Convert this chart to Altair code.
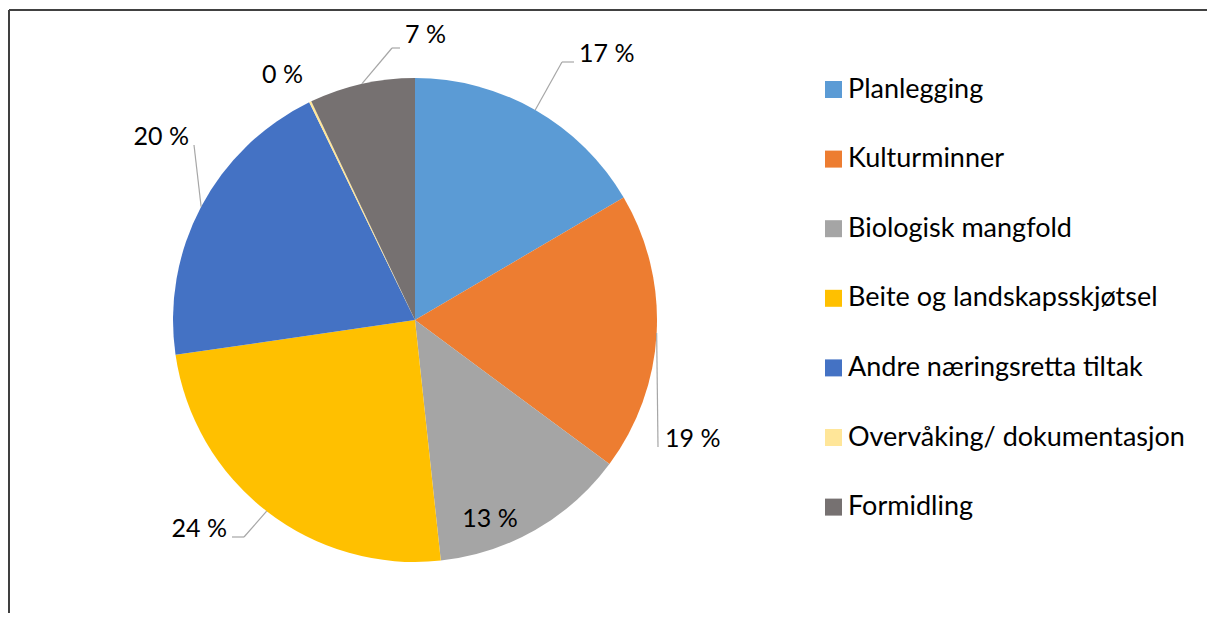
import math
import altair as alt
import pandas as pd

# ---- data ----
categories = [
    "Planlegging",
    "Kulturminner",
    "Biologisk mangfold",
    "Beite og landskapsskjøtsel",
    "Andre næringsretta tiltak",
    "Overvåking/ dokumentasjon",
    "Formidling",
]
shares = [16.55, 18.6, 13.15, 24.4, 20.1, 0.15, 7.05]
colors = ["#5B9BD5", "#ED7D31", "#A5A5A5", "#FFC000", "#4472C4", "#FFE699", "#767171"]

# ---- layout / style ----
W, H = 1199, 605
CX, CY, R = 407, 312, 242
FONT = "Lato"
LABEL_SIZE = 25
LEGEND_SIZE = 27

# label placement (Excel-style manual label positions), style only
label_layout = [
    {"text_xy": (571, 54), "align": "left", "path": [(554, 54), (566, 54)]},
    {"text_xy": (657, 439), "align": "left", "path": [(650, 439)]},
    {"text_xy": (482, 519), "align": "center", "path": None},
    {"text_xy": (219, 529), "align": "right", "path": [(236, 529), (224, 529)]},
    {"text_xy": (181, 137), "align": "right", "path": [(186, 137)]},
    {"text_xy": (254, 75), "align": "left", "path": None},
    {"text_xy": (397, 35), "align": "left", "path": [(384, 40), (392, 40)]},
]

pie_df = pd.DataFrame({
    "kategori": categories,
    "andel": shares,
    "rekkefolge": list(range(len(categories))),
})

total = sum(shares)
cum = 0.0
seg_rows, lab_rows = [], []
for v, lay in zip(shares, label_layout):
    a = (cum + v / 2) / total * 2 * math.pi
    cum += v
    ex, ey = CX + R * math.sin(a), CY - R * math.cos(a)
    if lay["path"]:
        pts = [(ex, ey)] + lay["path"]
        for (x1, y1), (x2, y2) in zip(pts[:-1], pts[1:]):
            seg_rows.append({"x": x1, "y": y1, "x2": x2, "y2": y2})
    tx, ty = lay["text_xy"]
    lab_rows.append({"label": f"{int(v / total * 100 + 0.5)} %", "x": tx, "y": ty, "align": lay["align"]})

seg_df = pd.DataFrame(seg_rows)
lab_df = pd.DataFrame(lab_rows)

arc = alt.Chart(pie_df).mark_arc(outerRadius=R).encode(
    theta=alt.Theta("andel:Q", stack=True),
    order=alt.Order("rekkefolge:Q"),
    color=alt.Color(
        "kategori:N",
        sort=categories,
        scale=alt.Scale(domain=categories, range=colors),
        legend=alt.Legend(
            title=None,
            orient="none",
            legendX=812,
            legendY=68,
            symbolType="square",
            symbolSize=289,
            symbolStrokeWidth=0,
            labelFont=FONT,
            labelFontSize=LEGEND_SIZE,
            labelColor="black",
            labelOffset=1,
            labelLimit=600,
            rowPadding=41.6,
            padding=0,
        ),
    ),
    x=alt.value(CX),
    y=alt.value(CY),
)

lines = alt.Chart(seg_df).mark_rule(color="#A6A6A6", strokeWidth=1.2).encode(
    x=alt.X("x:Q", scale=None, axis=None),
    y=alt.Y("y:Q", scale=None, axis=None),
    x2="x2:Q",
    y2="y2:Q",
)

text_layers = []
for al in ["left", "center", "right"]:
    sub = lab_df[lab_df["align"] == al]
    if len(sub):
        text_layers.append(
            alt.Chart(sub).mark_text(
                align=al, baseline="alphabetic", font=FONT, fontSize=LABEL_SIZE, color="black"
            ).encode(
                x=alt.X("x:Q", scale=None, axis=None),
                y=alt.Y("y:Q", scale=None, axis=None),
                text="label:N",
            )
        )

frame_top = alt.Chart(pie_df).mark_rule(color="#404040", strokeWidth=1.2).encode(
    x=alt.value(1), x2=alt.value(W), y=alt.value(2)
)
frame_left = alt.Chart(pie_df).mark_rule(color="#404040", strokeWidth=1.2).encode(
    x=alt.value(1), y=alt.value(2), y2=alt.value(H)
)

chart = alt.layer(arc, lines, *text_layers, frame_top, frame_left).properties(
    width=W,
    height=H,
    autosize=alt.AutoSizeParams(type="none"),
    padding=0,
    background="white",
).configure_view(stroke=None)

chart.save("out.html", embed_options={"renderer": "svg", "actions": False})
